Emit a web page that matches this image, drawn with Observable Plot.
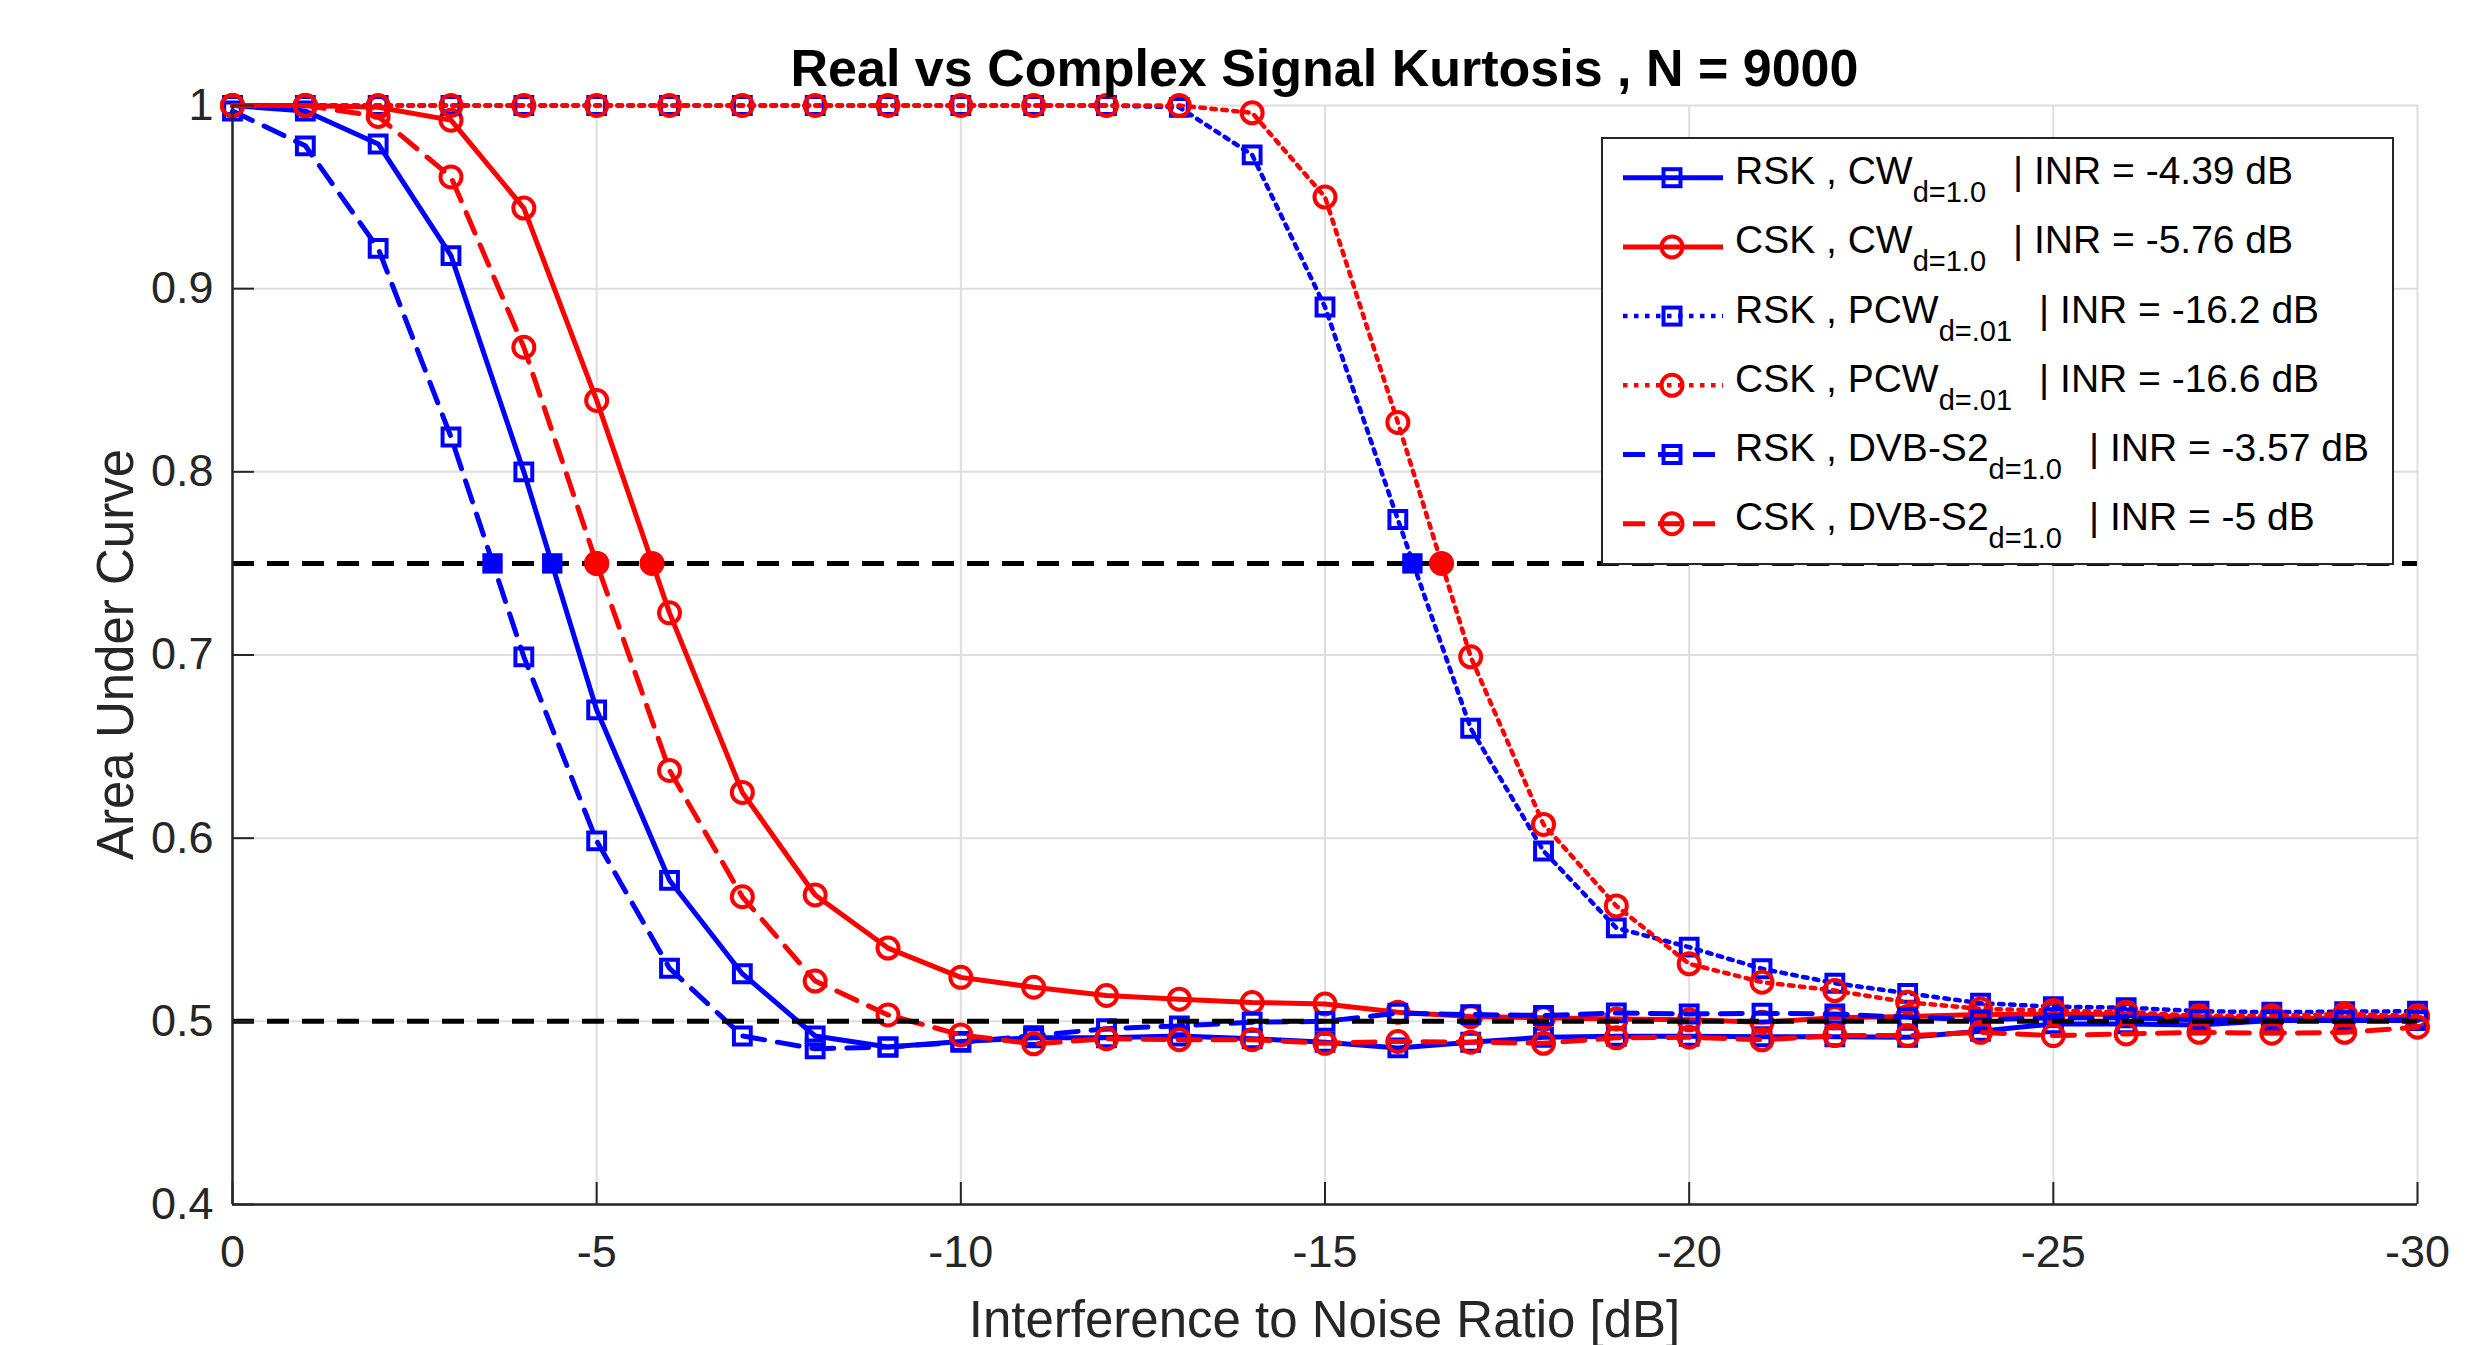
<!DOCTYPE html>
<html>
<head>
<meta charset="utf-8">
<script src="https://cdn.jsdelivr.net/npm/d3@7"></script>
<script src="https://cdn.jsdelivr.net/npm/@observablehq/plot@0.6"></script>
<style>
  html, body { margin: 0; padding: 0; background: #ffffff; overflow: hidden; }
  svg { display: block; }
</style>
</head>
<body>
<div id="chart"></div>
<script>
// ---------------- DATA ----------------
const inr = [0,-1,-2,-3,-4,-5,-6,-7,-8,-9,-10,-11,-12,-13,-14,-15,-16,-17,-18,-19,-20,-21,-22,-23,-24,-25,-26,-27,-28,-29,-30];

const rskCW  = [1.000,0.997,0.979,0.918,0.800,0.670,0.577,0.526,0.492,0.486,0.489,0.491,0.491,0.492,0.4905,0.4886,0.4855,0.4886,0.4913,0.4918,0.4918,0.4916,0.4916,0.4913,0.4946,0.4986,0.4986,0.498,0.5004,0.5004,0.5004];
const cskCW  = [1.000,1.000,0.999,0.992,0.944,0.839,0.723,0.625,0.569,0.540,0.524,0.5186,0.5141,0.5121,0.5103,0.5095,0.505,0.5026,0.5019,0.5013,0.5008,0.4995,0.5019,0.5026,0.5037,0.504,0.5037,0.502,0.5013,0.5019,0.5022];
const rskPCW = [1.000,1.000,1.000,1.000,1.000,1.000,1.000,1.000,1.000,1.000,1.000,1.000,1.000,0.999,0.973,0.890,0.774,0.660,0.593,0.551,0.5405,0.5287,0.5208,0.5153,0.5099,0.508,0.5075,0.5055,0.505,0.5053,0.5055];
const cskPCW = [1.000,1.000,1.000,1.000,1.000,1.000,1.000,1.000,1.000,1.000,1.000,1.000,1.000,1.000,0.996,0.950,0.827,0.699,0.6075,0.563,0.5314,0.5214,0.5168,0.5104,0.5068,0.5059,0.505,0.503,0.503,0.504,0.503];
const rskDVB = [0.997,0.978,0.922,0.819,0.699,0.5985,0.529,0.492,0.485,0.486,0.4886,0.4922,0.496,0.4975,0.4995,0.500,0.5045,0.5037,0.5032,0.5046,0.504,0.5044,0.504,0.5022,0.5008,0.502,0.5019,0.5008,0.5008,0.5004,0.5008];
const cskDVB = [1.000,1.000,0.994,0.961,0.868,0.750,0.637,0.568,0.522,0.5035,0.4926,0.4877,0.4905,0.490,0.490,0.488,0.489,0.4886,0.488,0.491,0.4913,0.4899,0.4922,0.4922,0.494,0.4922,0.4931,0.494,0.4935,0.494,0.4968];

// INR at which each curve crosses AUC = 0.75 (legend values)
const crossINR   = [-4.39, -5.76, -16.2, -16.6, -3.57, -5];
const crossLabel = ["-4.39", "-5.76", "-16.2", "-16.6", "-3.57", "-5"];
const detectors  = ["RSK", "CSK", "RSK", "CSK", "RSK", "CSK"];
const signals    = ["CW", "CW", "PCW", "PCW", "DVB-S2", "DVB-S2"];
const subs       = ["d=1.0", "d=1.0", "d=.01", "d=.01", "d=1.0", "d=1.0"];
const refLevels  = [0.75, 0.5];

const xTicks = [0, -5, -10, -15, -20, -25, -30];
const yTicks = [0.4, 0.5, 0.6, 0.7, 0.8, 0.9, 1.0];

// ---------------- STYLE ----------------
const W = 2488, H = 1345;
const mL = 232, mR = 71, mT = 105, mB = 141;
const plotW = W - mL - mR, plotH = H - mT - mB;
const FONT = "'Liberation Sans', Arial, Helvetica, sans-serif";
const AX = "#262626";
const BLUE = "#0000ff", RED = "#ff0000";
const DASH = "22,13", DOT = "4.5,6.5";
const LW = 5;

const values = [rskCW, cskCW, rskPCW, cskPCW, rskDVB, cskDVB];
const styles = [
  {color: BLUE, dash: null, symbol: "square", lw: LW},
  {color: RED,  dash: null, symbol: "circle", lw: LW},
  {color: BLUE, dash: DOT,  symbol: "square", lw: 4.5},
  {color: RED,  dash: DOT,  symbol: "circle", lw: 4.5},
  {color: BLUE, dash: DASH, symbol: "square", lw: LW},
  {color: RED,  dash: DASH, symbol: "circle", lw: LW}
];
const series = values.map((vals, k) => ({
  ...styles[k],
  points: inr.map((x, i) => ({x, y: vals[i]})),
  cross: {x: crossINR[k], y: refLevels[0]}
}));

const seriesMarks = series.flatMap(s => [
  Plot.line(s.points, {x: "x", y: "y", stroke: s.color, strokeWidth: s.lw, strokeDasharray: s.dash, strokeLinejoin: "round"}),
  Plot.dot(s.points, {x: "x", y: "y", symbol: s.symbol, r: s.symbol === "square" ? 9.5 : 10.5, stroke: s.color, strokeWidth: 4, fill: "none"})
]);

const crossMarks = series.map(s =>
  Plot.dot([s.cross], {x: "x", y: "y", symbol: s.symbol, r: s.symbol === "square" ? 11.5 : 12.5, fill: s.color, stroke: "none"})
);

const chart = Plot.plot({
  width: W, height: H,
  marginLeft: mL, marginRight: mR, marginTop: mT, marginBottom: mB,
  style: {fontFamily: FONT, background: "white", overflow: "visible"},
  x: {domain: [0, -30], label: null},
  y: {domain: [0.4, 1.0], label: null},
  marks: [
    Plot.gridX(xTicks, {stroke: "#dedede", strokeOpacity: 1, strokeWidth: 2}),
    Plot.gridY(yTicks, {stroke: "#dedede", strokeOpacity: 1, strokeWidth: 2}),
    ...seriesMarks,
    Plot.ruleY(refLevels, {stroke: "black", strokeWidth: LW, strokeDasharray: DASH}),
    ...crossMarks,
    Plot.ruleX([0], {stroke: AX, strokeWidth: 2.5}),
    Plot.ruleY([0.4], {stroke: AX, strokeWidth: 2.5}),
    Plot.tickX(xTicks, {x: d => d, stroke: AX, strokeWidth: 2, insetTop: plotH - 22}),
    Plot.tickY(yTicks, {y: d => d, stroke: AX, strokeWidth: 2, insetRight: plotW - 22}),
    Plot.axisX(xTicks, {tickSize: 0, tickPadding: 31, fontSize: 45, fill: AX, tickFormat: d => String(d), label: null}),
    Plot.axisY(yTicks, {tickSize: 0, tickPadding: 19, fontSize: 45, fill: AX, tickFormat: d => (d === 1 ? "1" : d.toFixed(1)), label: null})
  ]
});

document.getElementById("chart").appendChild(chart);

// ---------------- TITLE / LABELS / LEGEND ----------------
const svg = d3.select(chart);

svg.append("text")
  .attr("x", mL + plotW / 2).attr("y", 86)
  .attr("text-anchor", "middle")
  .attr("font-family", FONT).attr("font-size", 52).attr("font-weight", "bold")
  .attr("fill", "black")
  .text("Real vs Complex Signal Kurtosis , N = 9000");

svg.append("text")
  .attr("x", mL + plotW / 2).attr("y", 1337)
  .attr("text-anchor", "middle")
  .attr("font-family", FONT).attr("font-size", 51)
  .attr("fill", AX)
  .text("Interference to Noise Ratio [dB]");

svg.append("text")
  .attr("transform", `translate(133, ${mT + plotH / 2}) rotate(-90)`)
  .attr("text-anchor", "middle")
  .attr("font-family", FONT).attr("font-size", 51)
  .attr("fill", AX)
  .text("Area Under Curve");

const lg = svg.append("g").attr("text-anchor", "start");
lg.append("rect")
  .attr("x", 1602).attr("y", 138).attr("width", 791).attr("height", 426)
  .attr("fill", "white").attr("stroke", AX).attr("stroke-width", 2);

series.forEach((s, k) => {
  const cy = 177.7 + k * 69.2;
  lg.append("line")
    .attr("x1", 1623).attr("x2", 1723).attr("y1", cy).attr("y2", cy)
    .attr("stroke", s.color).attr("stroke-width", s.lw)
    .attr("stroke-dasharray", s.dash);
  if (s.symbol === "square") {
    lg.append("rect").attr("x", 1672 - 8.5).attr("y", cy - 8.5).attr("width", 17).attr("height", 17)
      .attr("fill", "none").attr("stroke", s.color).attr("stroke-width", 4);
  } else {
    lg.append("circle").attr("cx", 1672).attr("cy", cy).attr("r", 10.5)
      .attr("fill", "none").attr("stroke", s.color).attr("stroke-width", 4);
  }
  const t = lg.append("text")
    .attr("x", 1735).attr("y", cy + 6.5)
    .attr("text-anchor", "start")
    .attr("font-family", FONT).attr("font-size", 39).attr("fill", "black");
  t.append("tspan").text(`${detectors[k]} , ${signals[k]}`);
  t.append("tspan").attr("font-size", 29).attr("dy", 18).text(subs[k]);
  t.append("tspan").attr("dy", -18).attr("dx", 27).text(`| INR = ${crossLabel[k]} dB`);
});
</script>
</body>
</html>
